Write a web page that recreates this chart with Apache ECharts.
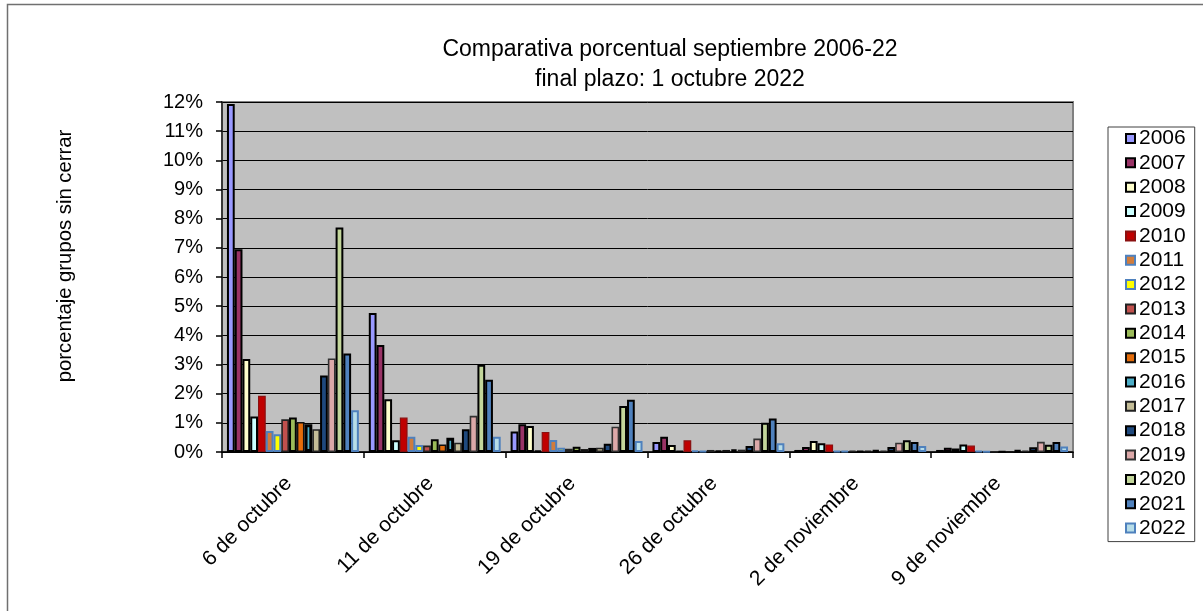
<!DOCTYPE html>
<html>
<head>
<meta charset="utf-8">
<script src="https://cdn.jsdelivr.net/npm/echarts@6/dist/echarts.min.js"></script>
<style>
  html, body { margin: 0; padding: 0; background: #fff; }
  #chart { width: 1203px; height: 611px; }
</style>
</head>
<body>
<div id="chart"></div>
<script>
// Closing dates (categories on the x axis)
const categories = ['6 de octubre', '11 de octubre', '19 de octubre', '26 de octubre', '2 de noviembre', '9 de noviembre'];

// Percentage of groups still open, one array per year
const s2006 = [11.93, 4.77, 0.70, 0.34, 0.07, 0.07];
const s2007 = [6.95, 3.67, 0.95, 0.52, 0.17, 0.15];
const s2008 = [3.19, 1.81, 0.89, 0.24, 0.38, 0.12];
const s2009 = [1.22, 0.40, 0.05, 0.03, 0.30, 0.26];
const s2010 = [1.93, 1.18, 0.69, 0.40, 0.26, 0.22];
const s2011 = [0.72, 0.52, 0.41, 0.05, 0.04, 0.03];
const s2012 = [0.61, 0.24, 0.15, 0.03, 0.03, 0.02];
const s2013 = [1.12, 0.22, 0.11, 0.07, 0.05, 0.02];
const s2014 = [1.18, 0.44, 0.18, 0.06, 0.04, 0.02];
const s2015 = [1.03, 0.26, 0.10, 0.07, 0.04, 0.02];
const s2016 = [0.95, 0.49, 0.14, 0.08, 0.05, 0.05];
const s2017 = [0.78, 0.32, 0.15, 0.08, 0.05, 0.05];
const s2018 = [2.62, 0.78, 0.28, 0.21, 0.17, 0.16];
const s2019 = [3.21, 1.24, 0.87, 0.46, 0.32, 0.35];
const s2020 = [7.70, 2.99, 1.58, 1.00, 0.40, 0.25];
const s2021 = [3.38, 2.48, 1.79, 1.15, 0.34, 0.34];
const s2022 = [1.43, 0.52, 0.38, 0.30, 0.21, 0.19];

const years = ['2006', '2007', '2008', '2009', '2010', '2011', '2012', '2013', '2014',
               '2015', '2016', '2017', '2018', '2019', '2020', '2021', '2022'];
const yearValues = [s2006, s2007, s2008, s2009, s2010, s2011, s2012, s2013, s2014,
                    s2015, s2016, s2017, s2018, s2019, s2020, s2021, s2022];

// y axis ticks: 0% .. 12%
const yTicks = [0, 1, 2, 3, 4, 5, 6, 7, 8, 9, 10, 11, 12];

// Fill and outline per year
const fills = ['#9999FF', '#993366', '#FFFFCC', '#CCFFFF', '#C00000', '#D07C3C', '#FFFF00',
               '#C0504D', '#9BBB59', '#E46C0A', '#4BACC6', '#C4BD97', '#1F497D', '#DDA9A9',
               '#C3D69B', '#4F81BD', '#B7DDE8'];
const outlines = ['#000', '#000', '#000', '#000', '#8a1010', '#4F81BD', '#4F81BD',
                  '#222', '#000', '#111', '#000', '#222', '#000', '#333',
                  '#000', '#000', '#4F81BD'];
const outlineWidths = [2, 2, 2, 2, 1.2, 2, 2, 1.6, 2, 1.6, 3, 1.6, 2, 1.6, 2, 2, 2];

const FONT = 'Liberation Sans, Arial, sans-serif';

const series = years.map((y, i) => ({
  name: y,
  type: 'bar',
  data: yearValues[i],
  barGap: '0%',
  barCategoryGap: '7%',
  itemStyle: {
    color: fills[i],
    borderColor: outlines[i],
    borderWidth: outlineWidths[i]
  },
  emphasis: { disabled: true },
  animation: false
}));

const chart = echarts.init(document.getElementById('chart'), null, { renderer: 'canvas' });
chart.setOption({
  backgroundColor: '#fff',
  animation: false,
  title: {
    text: 'Comparativa porcentual septiembre 2006-22\nfinal plazo: 1 octubre 2022',
    left: 665,
    top: 30,
    textAlign: 'center',
    textStyle: {
      fontFamily: FONT,
      fontSize: 23,
      fontWeight: 'normal',
      color: '#000',
      lineHeight: 29.5
    }
  },
  graphic: [
    {
      type: 'rect',
      shape: { x: 7.5, y: 4.5, width: 1215, height: 625 },
      style: { fill: null, stroke: '#707070', lineWidth: 1.5 },
      silent: true
    },
    {
      type: 'text',
      x: 65,
      y: 256,
      rotation: Math.PI / 2,
      style: {
        text: 'porcentaje grupos sin cerrar',
        font: '20.3px ' + FONT,
        fill: '#000',
        align: 'center',
        verticalAlign: 'middle'
      },
      silent: true
    }
  ],
  legend: {
    orient: 'vertical',
    left: 1108,
    top: 127,
    padding: [1, 9, 3, 17],
    itemGap: 3.35,
    itemWidth: 9,
    itemHeight: 9,
    icon: 'rect',
    borderColor: '#404040',
    borderWidth: 1,
    backgroundColor: '#fff',
    selectedMode: false,
    textStyle: { fontFamily: FONT, fontSize: 21, color: '#000', lineHeight: 20, padding: [0, 0, 0, -1] },
    data: years
  },
  grid: {
    left: 222,
    top: 102,
    right: 130,
    bottom: 159,
    show: true,
    backgroundColor: '#C0C0C0',
    borderColor: '#808080',
    borderWidth: 2,
    containLabel: false,
    outerBoundsMode: 'none'
  },
  xAxis: {
    type: 'category',
    data: categories,
    axisLine: { show: true, lineStyle: { color: '#000', width: 1.5 } },
    axisTick: { show: true, length: 6, inside: false, lineStyle: { color: '#000', width: 1.5 } },
    axisLabel: {
      rotate: 45,
      margin: 24,
      padding: [0, 6, 0, 0],
      fontFamily: FONT,
      fontSize: 21,
      color: '#000',
      interval: 0
    },
    splitLine: { show: false }
  },
  yAxis: {
    type: 'value',
    min: yTicks[0],
    max: yTicks[yTicks.length - 1],
    interval: 1,
    axisLine: { show: true, lineStyle: { color: '#202020', width: 1.5 } },
    axisTick: { show: true, length: 6, inside: false, lineStyle: { color: '#000', width: 1.5 } },
    axisLabel: {
      margin: 19,
      fontFamily: FONT,
      fontSize: 20,
      color: '#000',
      formatter: v => v + '%'
    },
    splitLine: { show: true, lineStyle: { color: '#000', width: 1 } }
  },
  series: series
});
</script>
</body>
</html>
